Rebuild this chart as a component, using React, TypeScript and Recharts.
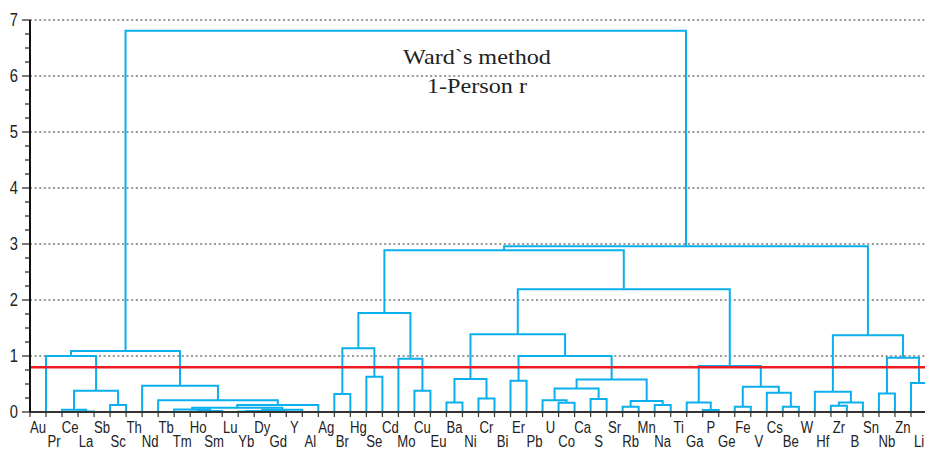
import { LineChart, Line, XAxis, YAxis, ReferenceLine } from "recharts";

// leaf order along the x axis
const leaves = [
  "Au", "Pr", "Ce", "La", "Sb", "Sc", "Th", "Nd", "Tb", "Tm", "Ho", "Sm", "Lu", "Yb",
  "Dy", "Gd", "Y", "Al", "Ag", "Br", "Hg", "Se", "Cd", "Mo", "Cu", "Eu", "Ba", "Ni",
  "Cr", "Bi", "Er", "Pb", "U", "Co", "Ca", "S", "Sr", "Rb", "Mn", "Na", "Ti", "Ga",
  "P", "Ge", "Fe", "V", "Cs", "Be", "W", "Hf", "Zr", "B", "Sn", "Nb", "Zn", "Li",
];

// linkage steps: [left, right, distance], "#n" = cluster made at step n
const merges: [string, string, number][] = [
  ["Ce", "La", 0.01],
  ["Pr", "#0", 0.04],
  ["Sb", "Sc", 0.125],
  ["#1", "#2", 0.38],
  ["Au", "#3", 1.0],
  ["Tm", "Ho", 0.005],
  ["#5", "Sm", 0.02],
  ["Tb", "#6", 0.045],
  ["Lu", "Yb", 0.01],
  ["Dy", "Gd", 0.012],
  ["#8", "#9", 0.02],
  ["#10", "Y", 0.04],
  ["#7", "#11", 0.077],
  ["#12", "Al", 0.125],
  ["Nd", "#13", 0.21],
  ["Th", "#14", 0.47],
  ["#4", "#15", 1.09],
  ["Ag", "Br", 0.32],
  ["Hg", "Se", 0.63],
  ["#17", "#18", 1.14],
  ["Mo", "Cu", 0.38],
  ["Cd", "#20", 0.95],
  ["#19", "#21", 1.77],
  ["Eu", "Ba", 0.17],
  ["Ni", "Cr", 0.24],
  ["#23", "#24", 0.59],
  ["Bi", "Er", 0.56],
  ["U", "Co", 0.165],
  ["Pb", "#27", 0.21],
  ["Ca", "S", 0.23],
  ["#28", "#29", 0.42],
  ["Sr", "Rb", 0.095],
  ["Mn", "Na", 0.125],
  ["#31", "#32", 0.196],
  ["#30", "#33", 0.58],
  ["#26", "#34", 1.0],
  ["#25", "#35", 1.39],
  ["Ga", "P", 0.035],
  ["Ti", "#37", 0.17],
  ["Ge", "Fe", 0.095],
  ["Cs", "Be", 0.095],
  ["V", "#40", 0.345],
  ["#39", "#41", 0.45],
  ["#38", "#42", 0.82],
  ["#36", "#43", 2.19],
  ["#22", "#44", 2.89],
  ["Hf", "Zr", 0.11],
  ["#46", "B", 0.17],
  ["W", "#47", 0.36],
  ["Sn", "Nb", 0.33],
  ["Zn", "Li", 0.52],
  ["#49", "#50", 0.97],
  ["#48", "#51", 1.37],
  ["#45", "#52", 2.96],
  ["#16", "#53", 6.81],
];

const cutLevel = 0.8;
const yLabels = [0, 1, 2, 3, 4, 5, 6, 7];
const gridLevels = [1, 2, 3, 4, 5, 6, 7];
const titleLines = ["Ward`s method", "1-Person r"];

const BLUE = "#0aafed";
// narrow sans look: Liberation Sans squeezed horizontally
const SANS = "'Liberation Sans', Arial, sans-serif";
const SQUEEZE = 0.82;

type Pt = { x: number; h: number };

function buildLinks(): Pt[][] {
  const nodes = new Map<string, Pt>();
  leaves.forEach((name, i) => nodes.set(name, { x: i, h: 0 }));
  return merges.map(([a, b, h], k) => {
    const A = nodes.get(a)!;
    const B = nodes.get(b)!;
    nodes.set("#" + k, { x: (A.x + B.x) / 2, h });
    return [
      { x: A.x, h: A.h },
      { x: A.x, h },
      { x: B.x, h },
      { x: B.x, h: B.h },
    ];
  });
}

const links = buildLinks();
const xTicks = [-1, ...leaves.map((_, i) => i)];
const yTicks = Array.from({ length: 29 }, (_, k) => k * 0.25);

function LeafTick({ x, y, payload }: any) {
  const i = payload.value;
  const name = leaves[i];
  if (!name) return null;
  return (
    <text
      transform={`translate(${x - 8},${y + (i % 2 === 0 ? 16 : 30)}) scale(${SQUEEZE},1)`}
      textAnchor="middle"
      fontFamily={SANS}
      fontSize={16}
      fill="#222"
    >
      {name}
    </text>
  );
}

function ValueTick({ x, y, payload }: any) {
  const v = payload.value;
  const major = Number.isInteger(v);
  return (
    <g>
      <line x1={x - (major ? 8 : 5)} x2={x} y1={y} y2={y} stroke="#222" strokeWidth={1.2} />
      {major && yLabels.includes(v) && (
        <text
          transform={`translate(${x - 12},${y}) scale(${SQUEEZE},1)`}
          dy="0.36em"
          textAnchor="end"
          fontFamily={SANS}
          fontSize={18}
          fill="#222"
        >
          {v}
        </text>
      )}
    </g>
  );
}

export default function App() {
  return (
    <div
      style={{
        position: "fixed",
        left: 0,
        top: 0,
        width: 925,
        height: 451,
        overflow: "hidden",
        background: "#fff",
      }}
    >
      <LineChart
        width={945}
        height={451}
        margin={{ top: 20, right: 2, bottom: 0, left: 0 }}
      >
        <XAxis
          dataKey="x"
          type="number"
          domain={[-1, 56]}
          allowDataOverflow
          ticks={xTicks}
          interval={0}
          tick={<LeafTick />}
          tickSize={5}
          tickMargin={0}
          height={39}
          axisLine={{ stroke: "#333", strokeWidth: 2 }}
          tickLine={{ stroke: "#333", strokeWidth: 1.2 }}
        />
        <YAxis
          type="number"
          domain={[0, 7]}
          allowDataOverflow
          ticks={yTicks}
          interval={0}
          tick={<ValueTick />}
          tickLine={false}
          tickSize={0}
          tickMargin={0}
          width={30}
          axisLine={{ stroke: "#111", strokeWidth: 2 }}
        />
        {gridLevels.map((g) => (
          <ReferenceLine
            key={g}
            y={g}
            stroke="#333"
            strokeWidth={1.2}
            strokeDasharray="2 2.6"
          />
        ))}
        {links.map((pts, k) => (
          <Line
            key={k}
            data={pts}
            dataKey="h"
            type="linear"
            stroke={BLUE}
            strokeWidth={2}
            dot={false}
            activeDot={false}
            isAnimationActive={false}
            legendType="none"
          />
        ))}
        <ReferenceLine y={cutLevel} stroke="#ec1c24" strokeWidth={2.6} />
      </LineChart>
      <div
        style={{
          position: "absolute",
          left: 327,
          top: 42,
          width: 300,
          textAlign: "center",
          fontFamily: "'Liberation Serif', 'Times New Roman', serif",
          fontSize: 22,
          lineHeight: "29px",
          color: "#222",
          transform: "scaleX(1.1)",
        }}
      >
        {titleLines.map((t) => (
          <div key={t}>{t}</div>
        ))}
      </div>
    </div>
  );
}
